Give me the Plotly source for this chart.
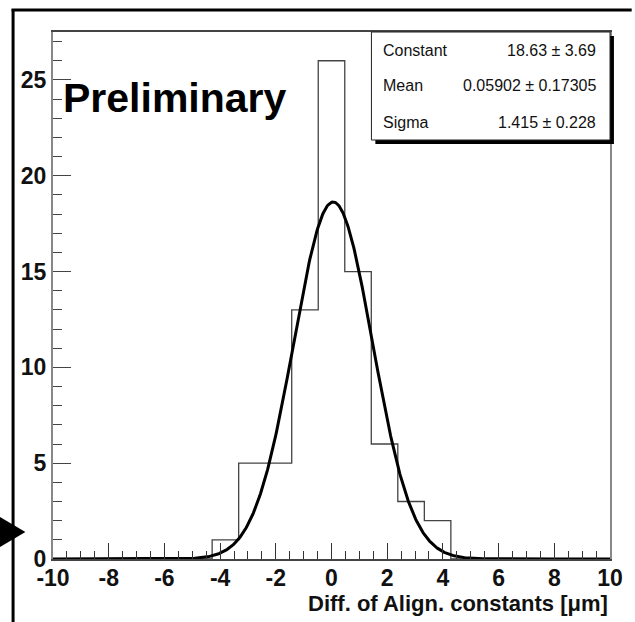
import numpy as np
import plotly.graph_objects as go

# ---------------- data ----------------
bin_low, bin_high, n_bins = -10.0, 10.0, 21
counts = [0, 0, 0, 0, 0, 0, 1, 5, 5, 13, 26, 15, 6, 3, 2, 0, 0, 0, 0, 0, 0]
fit_constant, fit_mean, fit_sigma = 18.63, 0.05902, 1.415
stat_labels = ["Constant", "Mean", "Sigma"]
stat_values = ["18.63 ± 3.69", "0.05902 ± 0.17305", "1.415 ± 0.228"]
x_tick_vals = [-10, -8, -6, -4, -2, 0, 2, 4, 6, 8, 10]
x_tick_text = ["-10", "-8", "-6", "-4", "-2", "0", "2", "4", "6", "8", "10"]
y_tick_vals = [0, 5, 10, 15, 20, 25]
y_tick_text = ["0", "5", "10", "15", "20", "25"]
x_title = "Diff. of Align. constants [μm]"
label_text = "Preliminary"

# ---------------- geometry helpers (pixel -> paper) ----------------
W, H = 635, 622
L, R, T, B = 53, 618, 32, 559


def px(x):
    return (x - L) / (R - L)


def py(y):
    return (B - y) / (B - T)


edges = np.linspace(bin_low, bin_high, n_bins + 1)
step_y = list(counts) + [counts[-1]]

fx = np.linspace(bin_low, bin_high, 801)
fy = fit_constant * np.exp(-0.5 * ((fx - fit_mean) / fit_sigma) ** 2)

fig = go.Figure()
fig.add_trace(go.Scatter(x=edges, y=step_y, mode="lines", line_shape="hv",
                         line=dict(color="#444", width=1.3),
                         showlegend=False, hoverinfo="skip"))
fig.add_trace(go.Scatter(x=fx, y=fy, mode="lines",
                         line=dict(color="black", width=3),
                         showlegend=False, hoverinfo="skip"))

tickfont = dict(family="Liberation Sans, Arial, sans-serif", size=23,
                color="#111", weight="bold")

fig.update_layout(
    width=W, height=H,
    margin=dict(l=L, r=W - R, t=T, b=H - B, pad=0),
    paper_bgcolor="white", plot_bgcolor="white",
    showlegend=False,
    xaxis=dict(range=[bin_low, bin_high], tickvals=x_tick_vals, ticktext=x_tick_text,
               ticks="inside", ticklen=16, tickwidth=1.2, tickcolor="#333",
               minor=dict(dtick=0.5, ticklen=8, tickwidth=1.2, tickcolor="#333", ticks="inside"),
               showline=True, linecolor="#444", linewidth=1.5, mirror=True,
               showgrid=False, zeroline=False, tickfont=tickfont,
               ticklabelstandoff=-2),
    yaxis=dict(range=[0, 27.5], tickvals=y_tick_vals, ticktext=y_tick_text,
               ticks="inside", ticklen=18, tickwidth=1.2, tickcolor="#444",
               minor=dict(dtick=1, ticklen=9, tickwidth=1.2, tickcolor="#444", ticks="inside"),
               showline=True, linecolor="#888", linewidth=2, mirror=True,
               showgrid=False, zeroline=False, tickfont=tickfont,
               ticklabelstandoff=0),
)

shapes = []
# outer frame (left and top)
shapes.append(dict(type="line", xref="paper", yref="paper",
                   x0=px(12.5), x1=px(12.5), y0=py(9), y1=py(630),
                   line=dict(color="black", width=3)))
shapes.append(dict(type="line", xref="paper", yref="paper",
                   x0=px(11), x1=px(640), y0=py(10), y1=py(10),
                   line=dict(color="black", width=3)))
# arrow head
shapes.append(dict(type="path", xref="paper", yref="paper",
                   path=f"M {px(-6)} {py(514)} L {px(25)} {py(532)} L {px(-6)} {py(550)} Z",
                   fillcolor="black", line=dict(color="black", width=0)))
# stats box shadow and box
shapes.append(dict(type="rect", xref="paper", yref="paper",
                   x0=px(380), x1=px(622), y0=py(144), y1=py(36),
                   fillcolor="black", line=dict(width=0)))
shapes.append(dict(type="rect", xref="paper", yref="paper",
                   x0=px(376), x1=px(618), y0=py(140), y1=py(32),
                   fillcolor="white", line=dict(color="#222", width=1)))
fig.update_layout(shapes=shapes)

annotations = []
stat_font = dict(family="Liberation Sans, Arial, sans-serif", size=16, color="#111")
row_y = [51, 86, 122]
for lab, val, yy in zip(stat_labels, stat_values, row_y):
    annotations.append(dict(xref="paper", yref="paper", x=px(386), y=py(yy),
                            xanchor="left", yanchor="middle", text=lab,
                            showarrow=False, font=stat_font))
    annotations.append(dict(xref="paper", yref="paper", x=px(606), y=py(yy),
                            xanchor="right", yanchor="middle", text=val,
                            showarrow=False, font=stat_font))
annotations.append(dict(xref="paper", yref="paper", x=px(61), y=py(98),
                        xanchor="left", yanchor="middle", text=label_text,
                        showarrow=False,
                        font=dict(family="Liberation Sans, Arial, sans-serif",
                                  size=41, color="black", weight="bold")))
annotations.append(dict(xref="paper", yref="paper", x=px(618), y=py(603),
                        xanchor="right", yanchor="middle", text=x_title,
                        showarrow=False,
                        font=dict(family="Liberation Sans, Arial, sans-serif",
                                  size=22, color="#111", weight="bold")))
fig.update_layout(annotations=annotations)

fig.write_html("out.html")
